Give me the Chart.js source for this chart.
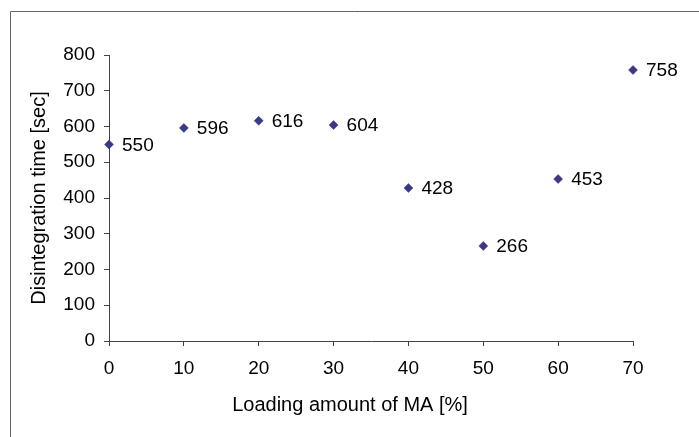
<!DOCTYPE html>
<html>
<head>
<meta charset="utf-8">
<script src="https://cdn.jsdelivr.net/npm/chart.js@4"></script>
<style>
    html, body { margin: 0; padding: 0; background: #fff; }
    #wrap { position: relative; width: 699px; height: 437px; }
</style>
</head>
<body>
<div id="wrap"><canvas id="scatterChart" width="699" height="437"></canvas></div>
<script>
// values
const loadingAmount = [0, 10, 20, 30, 40, 50, 60, 70];
const disintegrationTime = [550, 596, 616, 604, 428, 266, 453, 758];
const xTicks = [0, 10, 20, 30, 40, 50, 60, 70];
const yTicks = [0, 100, 200, 300, 400, 500, 600, 700, 800];

const FONT = '"Liberation Sans", Arial, Helvetica, sans-serif';
const MARKER = '#3c3889';
const AXIS = '#444';

// outer frame of the original figure (only top/left edges are visible)
const framePlugin = {
    id: 'frame',
    beforeDraw(chart) {
        const ctx = chart.ctx;
        ctx.save();
        ctx.strokeStyle = '#666';
        ctx.lineWidth = 1;
        ctx.beginPath();
        ctx.moveTo(10.5, chart.height);
        ctx.lineTo(10.5, 11.5);
        ctx.lineTo(chart.width, 11.5);
        ctx.stroke();
        ctx.restore();
    }
};

// value labels to the right of every marker
const valueLabels = {
    id: 'valueLabels',
    afterDatasetsDraw(chart) {
        const ctx = chart.ctx;
        const meta = chart.getDatasetMeta(0);
        ctx.save();
        ctx.font = '19px ' + FONT;
        ctx.fillStyle = '#000';
        ctx.textAlign = 'left';
        ctx.textBaseline = 'middle';
        meta.data.forEach((pt, i) => {
            ctx.fillText(String(disintegrationTime[i]), pt.x + 13, pt.y + 1);
        });
        ctx.restore();
    }
};

// x title is centred on the whole figure, not on the plot area
const xTitle = {
    id: 'xTitle',
    afterDraw(chart) {
        const ctx = chart.ctx;
        ctx.save();
        ctx.font = '20px ' + FONT;
        ctx.fillStyle = '#000';
        ctx.textAlign = 'center';
        ctx.textBaseline = 'middle';
        ctx.fillText('Loading amount of MA [%]', 350, 405);
        ctx.restore();
    }
};

const ctx = document.getElementById('scatterChart').getContext('2d');
new Chart(ctx, {
    type: 'scatter',
    data: {
        datasets: [{
            label: 'Disintegration time',
            data: loadingAmount.map((x, i) => ({ x: x, y: disintegrationTime[i] })),
            clip: false,
            pointStyle: 'rectRot',
            pointRadius: 4.5,
            pointHoverRadius: 4.5,
            pointBackgroundColor: MARKER,
            pointBorderColor: MARKER,
            pointBorderWidth: 0.5
        }]
    },
    options: {
        responsive: false,
        animation: false,
        devicePixelRatio: 1,
        layout: { padding: { left: 0, right: 66, top: 55, bottom: 0 } },
        plugins: {
            legend: { display: false },
            tooltip: { enabled: false }
        },
        scales: {
            x: {
                type: 'linear',
                min: 0,
                max: 70,
                afterFit: (scale) => { scale.height = 96; },
                afterBuildTicks: (scale) => { scale.ticks = xTicks.map(v => ({ value: v })); },
                grid: { drawOnChartArea: false, drawTicks: true, tickLength: 5, color: AXIS },
                border: { color: AXIS, width: 1 },
                ticks: { color: '#000', padding: 11, maxRotation: 0, font: { family: FONT, size: 19 } },
                title: { display: false }
            },
            y: {
                type: 'linear',
                min: 0,
                max: 800,
                afterFit: (scale) => { scale.width = 109; },
                afterBuildTicks: (scale) => { scale.ticks = yTicks.map(v => ({ value: v })); },
                grid: { drawOnChartArea: false, drawTicks: true, tickLength: 5, color: AXIS },
                border: { color: AXIS, width: 1 },
                ticks: { color: '#000', padding: 9, font: { family: FONT, size: 19 } },
                title: {
                    display: true,
                    text: 'Disintegration time [sec]',
                    color: '#000',
                    padding: { top: 27, bottom: 0 },
                    font: { family: FONT, size: 20 }
                }
            }
        }
    },
    plugins: [framePlugin, valueLabels, xTitle]
});
</script>
</body>
</html>
